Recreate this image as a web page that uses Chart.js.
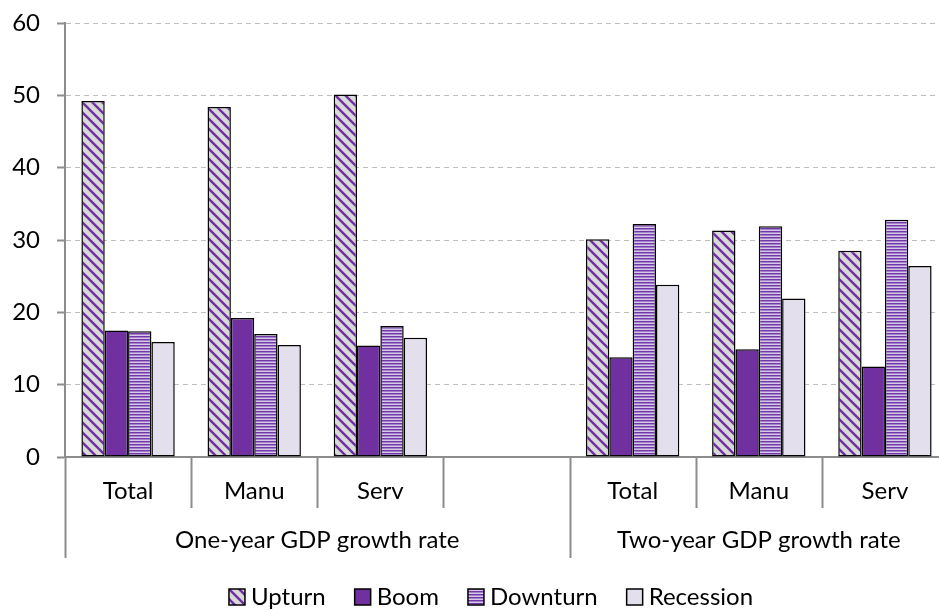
<!DOCTYPE html>
<html lang="en">
<head>
<meta charset="UTF-8">
<title>GDP growth rate</title>
<script src="https://cdn.jsdelivr.net/npm/chart.js"></script>
<style>
  html, body { margin: 0; padding: 0; background: #fff; overflow: hidden; }
  #wrap { width: 960px; height: 610px; }
</style>
</head>
<body>
<div id="wrap"><canvas id="myChart"></canvas></div>
<script>
// categories (4th slot is the empty gap under the one-year group)
const categories = ['Total', 'Manu', 'Serv', '', 'Total', 'Manu', 'Serv'];
const groupLabels = ['One-year GDP growth rate', 'Two-year GDP growth rate'];
const groupSizes = [4, 3];
const yTicks = [0, 10, 20, 30, 40, 50, 60];

const upturn    = [49.2, 48.4, 50.1, null, 30.1, 31.3, 28.5];
const boom      = [17.5, 19.2, 15.4, null, 13.8, 14.9, 12.5];
const downturn  = [17.4, 17.0, 18.1, null, 32.2, 31.9, 32.8];
const recession = [15.9, 15.5, 16.5, null, 23.8, 21.9, 26.4];

const FONT = 'Lato, "Open Sans", sans-serif';
const FS = 24;

// fill patterns
function diagPattern() {
    const c = document.createElement('canvas');
    c.width = 10; c.height = 10;
    const g = c.getContext('2d');
    g.fillStyle = '#d9d9d9';
    g.fillRect(0, 0, 10, 10);
    g.strokeStyle = '#7030a0';
    g.lineWidth = 2.4;
    g.beginPath();
    g.moveTo(-1, -1); g.lineTo(11, 11);
    g.moveTo(-6, 4); g.lineTo(1, 11);
    g.moveTo(4, -6); g.lineTo(11, 1);
    g.moveTo(-1, 9); g.lineTo(1, 11);
    g.moveTo(9, -1); g.lineTo(11, 1);
    g.stroke();
    return g.createPattern(c, 'repeat');
}
function stripePattern() {
    const c = document.createElement('canvas');
    c.width = 4; c.height = 3;
    const g = c.getContext('2d');
    g.fillStyle = '#7436aa'; g.fillRect(0, 0, 4, 1);
    g.fillStyle = '#a083c8'; g.fillRect(0, 1, 4, 1);
    g.fillStyle = '#d6c9e6'; g.fillRect(0, 2, 4, 1);
    return g.createPattern(c, 'repeat');
}

const common = { borderColor: '#000', borderWidth: 1.5, borderSkipped: false };

// draws the two-level category axis and the legend
const axisPlugin = {
    id: 'axisPlugin',
    afterDraw(chart) {
        const ctx = chart.ctx;
        const x = chart.scales.x;
        const bottom = chart.chartArea.bottom;
        const half = (x.getPixelForValue(1) - x.getPixelForValue(0)) / 2;
        ctx.save();
        ctx.strokeStyle = '#8c8c8c';
        ctx.lineWidth = 2;
        ctx.fillStyle = '#000';
        ctx.font = FS + 'px ' + FONT;
        ctx.textAlign = 'center';
        ctx.textBaseline = 'middle';

        // category labels + short separators
        categories.forEach((c, i) => {
            const cx = x.getPixelForValue(i);
            ctx.fillText(c, cx, bottom + 34);
        });
        let start = 0;
        const longAt = new Set([0]);
        groupSizes.forEach(n => { start += n; longAt.add(start); });
        for (let i = 0; i <= categories.length; i++) {
            const bx = Math.round(x.getPixelForValue(i) - half) + 0.5;
            const len = longAt.has(i) ? 101 : 51;
            ctx.beginPath();
            ctx.moveTo(bx, bottom);
            ctx.lineTo(bx, bottom + len);
            ctx.stroke();
        }
        // group labels
        start = 0;
        groupSizes.forEach((n, gi) => {
            const l = x.getPixelForValue(start) - half;
            const r = x.getPixelForValue(start + n - 1) + half;
            let cx = (l + r) / 2;
            if (gi === 1) cx = x.getPixelForValue(start + 1);
            ctx.fillText(groupLabels[gi], cx, bottom + 83);
            start += n;
        });

        // legend
        const ds = chart.data.datasets;
        const box = 16, gapText = 6, gapItem = 29;
        const widths = ds.map(d => ctx.measureText(d.label).width);
        let total = widths.reduce((a, b) => a + b, 0) + ds.length * (box + gapText) + (ds.length - 1) * gapItem;
        let lx = 491 - total / 2;
        const ly = 597;
        ctx.textAlign = 'left';
        ds.forEach((d, i) => {
            ctx.fillStyle = d.backgroundColor;
            ctx.fillRect(lx, ly - box / 2, box, box);
            ctx.strokeStyle = '#000';
            ctx.lineWidth = 1.5;
            ctx.strokeRect(lx, ly - box / 2, box, box);
            ctx.fillStyle = '#000';
            ctx.fillText(d.label, lx + box + gapText, ly);
            lx += box + gapText + widths[i] + gapItem;
        });
        ctx.restore();
    }
};

const data = {
    labels: categories,
    datasets: [
        { label: 'Upturn', data: upturn, backgroundColor: diagPattern(), ...common },
        { label: 'Boom', data: boom, backgroundColor: '#7030a0', ...common },
        { label: 'Downturn', data: downturn, backgroundColor: stripePattern(), ...common },
        { label: 'Recession', data: recession, backgroundColor: '#e4dfec', ...common }
    ]
};

const config = {
    type: 'bar',
    data: data,
    options: {
        responsive: false,
        animation: false,
        layout: { padding: { top: 23, right: 12, left: 0, bottom: 0 } },
        datasets: { bar: { categoryPercentage: 0.74, barPercentage: 1 } },
        plugins: { legend: { display: false }, tooltip: { enabled: false } },
        scales: {
            x: {
                ticks: { display: false },
                grid: { display: false },
                border: { color: '#8c8c8c', width: 2 },
                afterFit(s) { s.height = 153; }
            },
            y: {
                min: 0, max: 60,
                afterBuildTicks(s) { s.ticks = yTicks.map(v => ({ value: v })); },
                afterFit(s) { s.width = 65; s.paddingTop = 0; s.paddingBottom = 0; },
                ticks: { color: '#000', font: { family: FONT, size: FS }, padding: 17 },
                grid: { color: '#bfbfbf', lineWidth: 1, tickLength: 8, tickColor: '#8c8c8c', tickWidth: 2, tickBorderDash: [1, 0] },
                border: { color: '#8c8c8c', width: 2, dash: [5, 4] }
            }
        }
    },
    plugins: [axisPlugin]
};

const canvas = document.getElementById('myChart');
canvas.width = 960;
canvas.height = 610;
const myChart = new Chart(canvas.getContext('2d'), config);
</script>
</body>
</html>
